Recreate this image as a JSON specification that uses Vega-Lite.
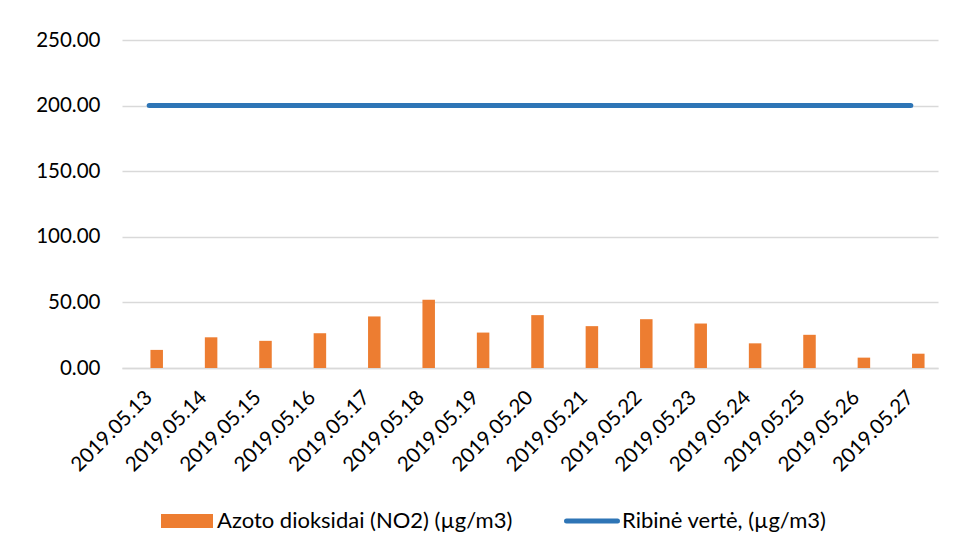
{
  "$schema": "https://vega.github.io/schema/vega-lite/v6.json",
  "width": 816,
  "height": 328,
  "autosize": {"type": "none"},
  "padding": {"left": 122, "top": 40, "right": 17, "bottom": 184},
  "background": "white",
  "config": {"view": {"stroke": null}, "font": "Lato"},
  "data": {
    "values": [
      {"date": "2019.05.13", "no2": 13.8, "limit": 200},
      {"date": "2019.05.14", "no2": 23.4, "limit": 200},
      {"date": "2019.05.15", "no2": 20.7, "limit": 200},
      {"date": "2019.05.16", "no2": 26.5, "limit": 200},
      {"date": "2019.05.17", "no2": 39.3, "limit": 200},
      {"date": "2019.05.18", "no2": 52.1, "limit": 200},
      {"date": "2019.05.19", "no2": 27.0, "limit": 200},
      {"date": "2019.05.20", "no2": 40.3, "limit": 200},
      {"date": "2019.05.21", "no2": 31.9, "limit": 200},
      {"date": "2019.05.22", "no2": 37.2, "limit": 200},
      {"date": "2019.05.23", "no2": 33.9, "limit": 200},
      {"date": "2019.05.24", "no2": 18.8, "limit": 200},
      {"date": "2019.05.25", "no2": 25.3, "limit": 200},
      {"date": "2019.05.26", "no2": 7.9, "limit": 200},
      {"date": "2019.05.27", "no2": 10.9, "limit": 200}
    ]
  },
  "encoding": {
    "x": {
      "field": "date",
      "type": "ordinal",
      "scale": {"paddingInner": 0.77, "paddingOuter": 0.385},
      "axis": {
        "title": null,
        "labelAngle": -45,
        "labelAlign": "right",
        "labelBaseline": "middle",
        "labelFontSize": 20.5,
        "labelColor": "black",
        "labelPadding": 26,
        "labelDx": 2,
        "ticks": false,
        "domainColor": "#D9D9D9",
        "domainWidth": 1.5
      }
    }
  },
  "layer": [
    {
      "mark": {"type": "bar", "xOffset": 7.5},
      "encoding": {
        "y": {
          "field": "no2",
          "type": "quantitative",
          "scale": {"domain": [0, 250], "nice": false},
          "axis": {
            "title": null,
            "values": [0, 50, 100, 150, 200, 250],
            "format": ".2f",
            "labelFontSize": 20.5,
            "labelColor": "black",
            "labelPadding": 22,
            "ticks": false,
            "domain": false,
            "gridColor": "#D9D9D9",
            "gridWidth": 1.3
          }
        },
        "color": {
          "datum": "Azoto dioksidai (NO2) (µg/m3)",
          "type": "nominal",
          "scale": {
            "domain": ["Azoto dioksidai (NO2) (µg/m3)", "Ribinė vertė, (µg/m3)"],
            "range": ["#ED7D31", "#2E75B6"]
          },
          "legend": {
            "title": null,
            "orient": "none",
            "legendX": 54,
            "legendY": 470,
            "direction": "horizontal",
            "columnPadding": 43,
            "labelFontSize": 22,
            "labelColor": "black",
            "labelOffset": 19,
            "symbolSize": 2704,
            "labelLimit": 500,
            "encode": {
              "symbols": {
                "update": {
                  "shape": {"signal": "datum.value == 'Ribinė vertė, (µg/m3)' ? 'M-0.98,0H0.98' : 'M-1,-0.27H1V0.27H-1Z'"},
                  "size": {"value": 2704},
                  "fill": {"signal": "datum.value == 'Ribinė vertė, (µg/m3)' ? 'transparent' : '#ED7D31'"},
                  "stroke": {"signal": "datum.value == 'Ribinė vertė, (µg/m3)' ? '#2E75B6' : 'transparent'"},
                  "strokeWidth": {"signal": "datum.value == 'Ribinė vertė, (µg/m3)' ? 5 : 0"},
                  "strokeCap": {"value": "round"},
                  "opacity": {"value": 1}
                }
              }
            }
          }
        }
      }
    },
    {
      "mark": {"type": "line", "strokeWidth": 5, "strokeCap": "round"},
      "encoding": {
        "y": {"field": "limit", "type": "quantitative"},
        "color": {"datum": "Ribinė vertė, (µg/m3)", "type": "nominal"}
      }
    }
  ]
}
